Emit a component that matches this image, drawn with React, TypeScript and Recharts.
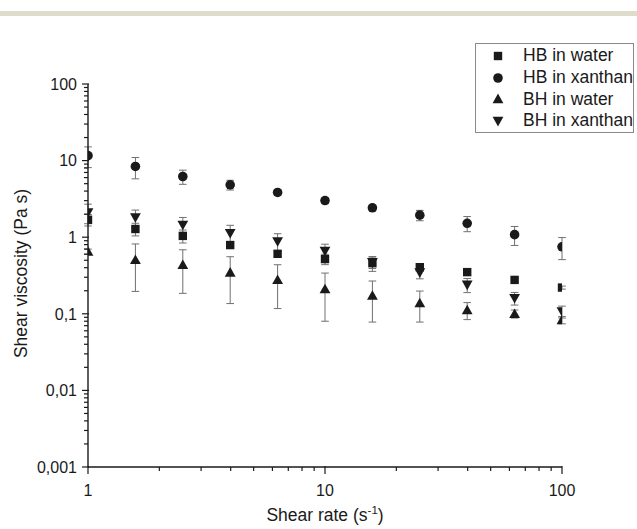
import React from 'react';
import { ScatterChart, Scatter, XAxis, YAxis, ErrorBar } from 'recharts';

const shearRate = [1, 1.585, 2.512, 3.981, 6.31, 10, 15.85, 25.12, 39.81, 63.1, 100];

const hbWater = [1.69, 1.28, 1.04, 0.79, 0.607, 0.518, 0.458, 0.406, 0.35, 0.277, 0.22];
const hbWaterSd = [0.29, 0.24, 0.2, 0.08, 0.05, 0.08, 0.1, 0.03, 0.01, 0.01, 0.01];
const hbXanthan = [11.6, 8.38, 6.2, 4.83, 3.84, 3.01, 2.42, 1.94, 1.52, 1.08, 0.75];
const hbXanthanSd = [3.5, 2.6, 1.3, 0.7, 0.3, 0.25, 0.2, 0.3, 0.34, 0.3, 0.24];
const bhWater = [0.65, 0.506, 0.435, 0.346, 0.277, 0.21, 0.173, 0.138, 0.112, 0.1, 0.083];
const bhWaterSd = [0.05, 0.31, 0.25, 0.21, 0.16, 0.13, 0.095, 0.06, 0.028, 0.012, 0.009];
const bhXanthan = [2.1, 1.81, 1.45, 1.13, 0.88, 0.66, 0.47, 0.346, 0.239, 0.16, 0.107];
const bhXanthanSd = [0.6, 0.45, 0.36, 0.3, 0.23, 0.15, 0.08, 0.06, 0.05, 0.03, 0.019];

const seriesNames = ['HB in water', 'HB in xanthan', 'BH in water', 'BH in xanthan'];
const seriesShapes = ['square', 'circle', 'up', 'down'];

const xMajor = [1, 10, 100];
const yMajor = [0.001, 0.01, 0.1, 1, 10, 100];
const yMajorLabels = ['0,001', '0,01', '0,1', '1', '10', '100'];

const minorOf = (majors: number[]) => {
  const out: number[] = [];
  for (let i = 0; i < majors.length - 1; i++) {
    for (let m = 1; m < 10; m++) out.push(+(majors[i] * m).toPrecision(3));
  }
  out.push(majors[majors.length - 1]);
  return out;
};
const xTicks = minorOf(xMajor);
const yTicks = minorOf(yMajor);

const FONT = '"Liberation Sans", Arial, sans-serif';
const INK = '#1a1a1a';

const build = (vals: number[], sds: number[]) =>
  vals.map((v, i) => ({ x: shearRate[i], y: v, sd: sds[i] }));

const Marker = ({ kind, cx, cy }: { kind: string; cx: number; cy: number }) => {
  if (kind === 'square') return <rect x={cx - 4.2} y={cy - 4.2} width={8.4} height={8.4} fill={INK} />;
  if (kind === 'circle') return <circle cx={cx} cy={cy} r={4.8} fill={INK} />;
  if (kind === 'up')
    return <polygon points={`${cx - 5.4},${cy + 4.2} ${cx + 5.4},${cy + 4.2} ${cx},${cy - 5.4}`} fill={INK} />;
  return <polygon points={`${cx - 5.4},${cy - 4.2} ${cx + 5.4},${cy - 4.2} ${cx},${cy + 5.4}`} fill={INK} />;
};

const isMajor = (v: number, majors: number[]) => majors.some((m) => Math.abs(m - v) / m < 1e-6);

const XTick = (props: any) => {
  const { x, y, payload } = props;
  const v = payload.value;
  const major = isMajor(v, xMajor);
  return (
    <g>
      <line x1={x} x2={x} y1={y - (major ? 1 : 0)} y2={y + (major ? 7 : 4)} stroke={INK} strokeWidth={1.2} />
      {major && (
        <text x={x} y={y + 29} textAnchor="middle" fontSize={16} fill={INK} fontFamily={FONT}>
          {String(v)}
        </text>
      )}
    </g>
  );
};

const YTick = (props: any) => {
  const { x, y, payload } = props;
  const v = payload.value;
  const idx = yMajor.findIndex((m) => Math.abs(m - v) / m < 1e-6);
  const major = idx >= 0;
  return (
    <g>
      <line x1={x - (major ? 6 : 4)} x2={x + (major ? 1 : 0)} y1={y} y2={y} stroke={INK} strokeWidth={1.2} />
      {major && (
        <text x={x - 11} y={y} dy="0.36em" textAnchor="end" fontSize={16} fill={INK} fontFamily={FONT}>
          {yMajorLabels[idx]}
        </text>
      )}
    </g>
  );
};

const LegendBox = () => (
  <div
    style={{
      position: 'absolute',
      left: 475,
      top: 43,
      border: '1px solid #8a8a8a',
      width: 159,
      height: 90,
      boxSizing: 'border-box',
      paddingTop: 1,
      fontFamily: FONT,
      fontSize: 17.5,
      color: INK,
      background: '#fff',
    }}
  >
    {seriesNames.map((n, i) => (
      <div key={n} style={{ height: 21.7, display: 'flex', alignItems: 'center' }}>
        <svg width={47} height={20} style={{ flex: 'none' }}>
          <Marker kind={seriesShapes[i]} cx={22} cy={10} />
        </svg>
        <span style={{ whiteSpace: 'nowrap' }}>{n}</span>
      </div>
    ))}
  </div>
);

const YTitle = (props: any) => {
  const vb = props.viewBox || { x: 0, y: 84, width: 88, height: 383 };
  const cx = 21;
  const cy = vb.y + vb.height / 2 - 2;
  return (
    <text
      x={cx}
      y={cy}
      transform={`rotate(-90 ${cx} ${cy})`}
      textAnchor="middle"
      dominantBaseline="central"
      fontSize={17.5}
      fill={INK}
      fontFamily={FONT}
    >
      Shear viscosity (Pa s)
    </text>
  );
};

const XTitle = (props: any) => {
  const vb = props.viewBox || { x: 88, y: 467, width: 474, height: 62 };
  const cx = vb.x + vb.width / 2;
  return (
    <text x={cx} y={vb.y + 54} textAnchor="middle" fontSize={17.5} fill={INK} fontFamily={FONT}>
      <tspan>Shear rate (s</tspan>
      <tspan dy={-7} fontSize={11.5}>-1</tspan>
      <tspan dy={7}>)</tspan>
    </text>
  );
};

const Empty = () => <g />;

export default function App() {
  const series = [
    build(hbWater, hbWaterSd),
    build(hbXanthan, hbXanthanSd),
    build(bhWater, bhWaterSd),
    build(bhXanthan, bhXanthanSd),
  ];
  const errProps: any = { zIndex: 100 };
  const markProps: any = { zIndex: 900 };
  return (
    <div style={{ position: 'absolute', left: 0, top: 0, width: 637, height: 529, background: '#fff' }}>
      <div style={{ position: 'absolute', left: 0, top: 11, width: 637, height: 4.5, background: '#dfdccb' }} />
      <ScatterChart width={637} height={529} margin={{ top: 84, right: 75, bottom: 0, left: 0 }}>
        <XAxis
          type="number"
          dataKey="x"
          scale="log"
          domain={[1, 100]}
          allowDataOverflow
          ticks={xTicks}
          interval={0}
          tick={XTick}
          tickLine={false}
          tickSize={0}
          tickMargin={0}
          height={62}
          axisLine={{ stroke: INK, strokeWidth: 1.4 }}
          label={{ content: XTitle }}
        />
        <YAxis
          type="number"
          dataKey="y"
          scale="log"
          domain={[0.001, 100]}
          allowDataOverflow
          ticks={yTicks}
          interval={0}
          tick={YTick}
          tickLine={false}
          tickSize={0}
          tickMargin={0}
          width={88}
          axisLine={{ stroke: INK, strokeWidth: 1.4 }}
          label={{ content: YTitle }}
        />
        {series.map((d, i) => (
          <Scatter
            key={'err-' + seriesNames[i]}
            name={seriesNames[i] + ' (sd)'}
            data={d}
            fill="none"
            isAnimationActive={false}
            shape={Empty}
            {...errProps}
          >
            <ErrorBar dataKey="sd" direction="y" width={3.8} stroke="#707070" strokeWidth={1} {...errProps} />
          </Scatter>
        ))}
        {series.map((d, i) => (
          <Scatter
            key={seriesNames[i]}
            name={seriesNames[i]}
            data={d}
            fill={INK}
            isAnimationActive={false}
            shape={(p: any) => <Marker kind={seriesShapes[i]} cx={p.cx} cy={p.cy} />}
            {...markProps}
          />
        ))}
      </ScatterChart>
      <LegendBox />
    </div>
  );
}
